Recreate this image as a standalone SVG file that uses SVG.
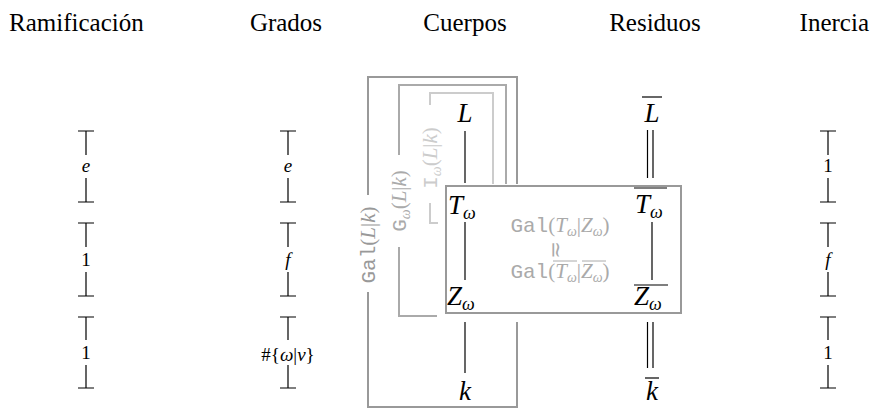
<svg xmlns="http://www.w3.org/2000/svg" width="871" height="408" viewBox="0 0 871 408">
<style>
.h{font-family:"Liberation Serif","DejaVu Serif","Times New Roman",serif;font-size:25px;fill:#000}
.m{font-family:"Liberation Serif","DejaVu Serif","Times New Roman",serif;font-style:italic;font-size:27px;fill:#000}
.sub{font-size:18px}
.s{font-family:"Liberation Serif","DejaVu Serif","Times New Roman",serif;font-size:19px;fill:#000;text-anchor:middle}
.si{font-style:italic}
.tt{font-family:"Liberation Mono","DejaVu Sans Mono",monospace;font-style:normal}
.g{font-family:"Liberation Serif","DejaVu Serif","Times New Roman",serif;font-size:21px;text-anchor:middle}
.gs{font-style:italic;font-size:14px}
.fr{fill:none;stroke-width:2}
.k{stroke:#000;stroke-width:1.2;fill:none}
</style>
<rect width="871" height="408" fill="#fff"/>
<g id="headings">
<text class="h" x="9" y="31">Ramificación</text>
<text class="h" x="286" y="31" text-anchor="middle">Grados</text>
<text class="h" x="465" y="31" text-anchor="middle">Cuerpos</text>
<text class="h" x="655" y="31" text-anchor="middle">Residuos</text>
<text class="h" x="869" y="31" text-anchor="end">Inercia</text>
</g>
<g id="frames">
<path class="fr" stroke="#999" d="M368,195 V77 H517 V184 M517,322 V407 H368 V292"/>
<path class="fr" stroke="#aaa" d="M399,155 V85 H506 V184 M399,247 V316 H437"/>
<path class="fr" stroke="#ccc" d="M430,105 V93 H493 V184 M430,203 V223 H438"/>
<text class="g" fill="#999" transform="translate(375,245) rotate(-90)"><tspan class="tt">Gal</tspan>(<tspan class="si">L</tspan>|<tspan class="si">k</tspan>)</text>
<text class="g" fill="#aaa" transform="translate(406,201) rotate(-90)"><tspan class="tt">G</tspan><tspan class="gs" dy="4">ω</tspan><tspan dy="-4">(</tspan><tspan class="si">L</tspan>|<tspan class="si">k</tspan>)</text>
<text class="g" fill="#ccc" transform="translate(437,158) rotate(-90)"><tspan class="tt">I</tspan><tspan class="gs" dy="4">ω</tspan><tspan dy="-4">(</tspan><tspan class="si">L</tspan>|<tspan class="si">k</tspan>)</text>
</g>
<g id="box">
<rect x="446" y="186" width="235" height="127" fill="none" stroke="#999" stroke-width="2"/>
<text class="g" fill="#aaa" x="560" y="232"><tspan class="tt">Gal</tspan>(<tspan class="si">T</tspan><tspan class="gs" dy="4">ω</tspan><tspan dy="-4">|</tspan><tspan class="si">Z</tspan><tspan class="gs" dy="4">ω</tspan><tspan dy="-4">)</tspan></text>
<text class="g" fill="#aaa" transform="translate(556,250) rotate(90)" font-size="20" dominant-baseline="central">≃</text>
<text id="galbar" class="g" fill="#aaa" x="560" y="278"><tspan class="tt">Gal</tspan>(<tspan class="si">T</tspan><tspan class="gs" dy="4">ω</tspan><tspan dy="-4">|</tspan><tspan class="si">Z</tspan><tspan class="gs" dy="4">ω</tspan><tspan dy="-4">)</tspan></text>
<line x1="553" y1="261" x2="577" y2="261" stroke="#aaa" stroke-width="1"/>
<line x1="582" y1="261" x2="606" y2="261" stroke="#aaa" stroke-width="1"/>
</g>
<g id="connectors">
<line class="k" x1="465" y1="131" x2="465" y2="183"/>
<line class="k" x1="465" y1="222" x2="465" y2="280"/>
<line class="k" x1="465" y1="322" x2="465" y2="373"/>
<line class="k" x1="647.5" y1="130" x2="647.5" y2="178"/>
<line class="k" x1="653" y1="130" x2="653" y2="178"/>
<line class="k" x1="652" y1="222" x2="652" y2="280"/>
<line class="k" x1="647.5" y1="322" x2="647.5" y2="368"/>
<line class="k" x1="653" y1="322" x2="653" y2="368"/>
</g>
<g id="n-L"><text class="m" x="465" y="122" text-anchor="middle">L</text></g>
<g id="n-T"><text class="m" x="448" y="214">T<tspan class="sub" dy="5">ω</tspan></text></g>
<g id="n-Z"><text class="m" x="447" y="305">Z<tspan class="sub" dy="5">ω</tspan></text></g>
<g id="n-k"><text class="m" x="465" y="400" text-anchor="middle">k</text></g>
<g id="n-Lbar"><text class="m" x="652" y="122" text-anchor="middle">L</text><line class="k" x1="642" y1="97" x2="662" y2="97"/></g>
<g id="n-Tbar"><text class="m" x="635" y="213">T<tspan class="sub" dy="5">ω</tspan></text><line class="k" x1="634" y1="188" x2="667" y2="188"/></g>
<g id="n-Zbar"><text class="m" x="634" y="305">Z<tspan class="sub" dy="5">ω</tspan></text><line class="k" x1="634" y1="285" x2="668" y2="285"/></g>
<g id="n-kbar"><text class="m" x="652" y="400" text-anchor="middle">k</text><line class="k" x1="645" y1="378" x2="659" y2="378"/></g>
<g id="ram">
<path class="k" d="M78,131 H94 M86,131 V155 M86,178 V202 M78,202 H94 M78,223 H94 M86,223 V247 M86,272 V296 M78,296 H94 M78,317 H94 M86,317 V340 M86,365 V388 M78,388 H94"/>
<text class="s si" x="86" y="172">e</text>
<text class="s" x="86" y="266">1</text>
<text class="s" x="86" y="359">1</text>
</g>
<g id="grados">
<path class="k" d="M280,131 H296 M288,131 V155 M288,178 V202 M280,202 H296 M280,223 H296 M288,223 V247 M288,272 V296 M280,296 H296 M280,317 H296 M288,317 V340 M288,365 V388 M280,388 H296"/>
<text class="s si" x="288" y="172">e</text>
<text class="s si" x="288" y="266">f</text>
<text class="s" x="288" y="361" font-size="25">#{<tspan class="si">ω</tspan>|<tspan class="si">ν</tspan>}</text>
</g>
<g id="inercia">
<path class="k" d="M820,131 H836 M828,131 V155 M828,178 V202 M820,202 H836 M820,223 H836 M828,223 V247 M828,272 V296 M820,296 H836 M820,317 H836 M828,317 V340 M828,365 V388 M820,388 H836"/>
<text class="s" x="828" y="172">1</text>
<text class="s si" x="828" y="266">f</text>
<text class="s" x="828" y="359">1</text>
</g>
</svg>
